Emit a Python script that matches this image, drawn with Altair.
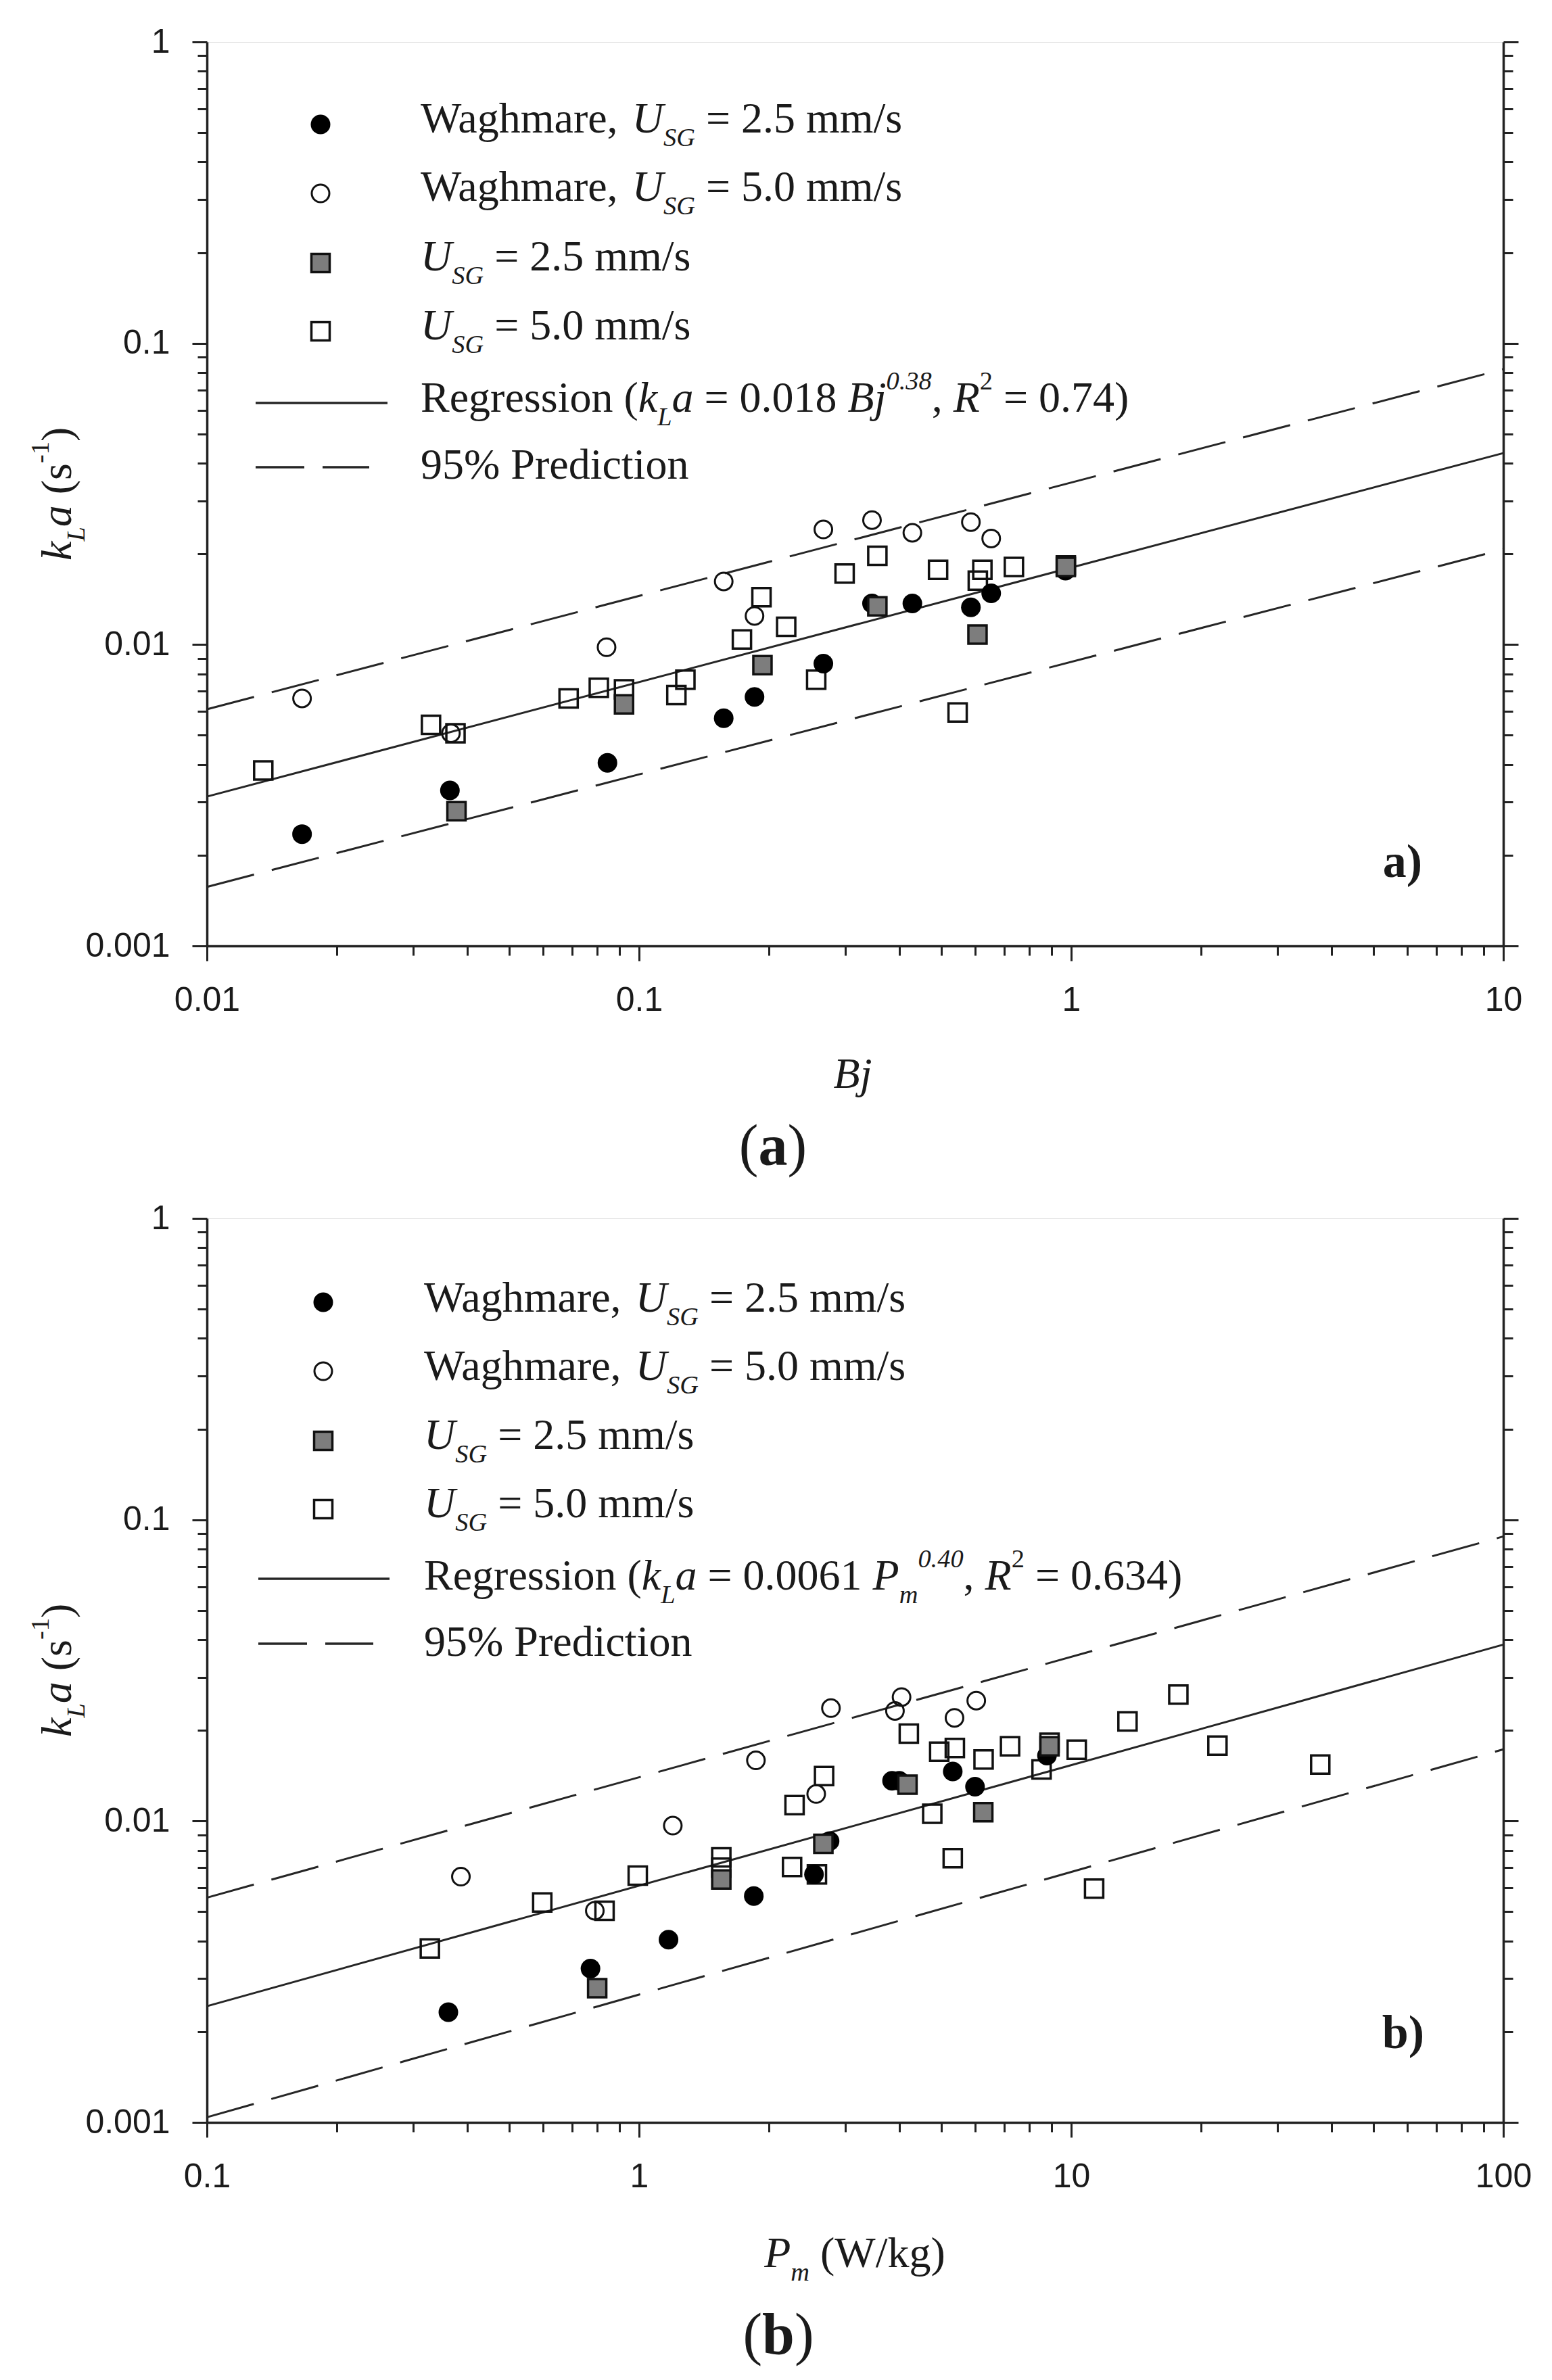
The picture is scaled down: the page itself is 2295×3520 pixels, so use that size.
import json
import altair as alt
import pandas as pd

# ---------------- data ----------------
# Panel (a): kLa vs Bj
a_wag25_x = [0.0166, 0.0365, 0.0845, 0.157, 0.185, 0.267, 0.346, 0.429, 0.586, 0.653, 0.97]
a_wag25_y = [0.00235, 0.00328, 0.00405, 0.0057, 0.0067, 0.00865, 0.0137, 0.0137, 0.0133, 0.0148, 0.0176]
a_wag50_x = [0.0166, 0.0367, 0.0841, 0.157, 0.185, 0.267, 0.346, 0.429, 0.586, 0.653]
a_wag50_y = [0.00663, 0.00508, 0.0098, 0.0162, 0.01245, 0.0241, 0.0259, 0.0235, 0.0255, 0.0225]
a_u25_x = [0.0378, 0.0923, 0.193, 0.356, 0.607, 0.972]
a_u25_y = [0.0028, 0.00633, 0.00855, 0.0134, 0.0108, 0.0181]
a_u50_x = [0.0135, 0.033, 0.0376, 0.0687, 0.0807, 0.0923, 0.122, 0.128, 0.173, 0.192,
           0.219, 0.257, 0.299, 0.356, 0.492, 0.546, 0.608, 0.623, 0.737, 0.972]
a_u50_y = [0.00382, 0.00542, 0.00508, 0.00663, 0.00719, 0.0071, 0.0068, 0.00765, 0.0104, 0.01437,
           0.01146, 0.00765, 0.0172, 0.0197, 0.0177, 0.00595, 0.0163, 0.0177, 0.0181, 0.0183]
a_line_x = [0.01, 10]
a_reg_y = [0.00313, 0.0432]
a_up_y = [0.0061, 0.082]
a_lo_y = [0.00157, 0.0207]

# Panel (b): kLa vs Pm
b_wag25_x = [0.362, 0.772, 1.17, 1.843, 2.54, 2.76, 3.85, 4.0, 5.32, 5.99, 8.79]
b_wag25_y = [0.00232, 0.00324, 0.00404, 0.00564, 0.00665, 0.00858, 0.0136, 0.0136, 0.0146, 0.0130, 0.0165]
b_wag50_x = [0.387, 0.79, 1.197, 1.864, 2.57, 2.78, 3.91, 4.05, 5.37, 6.03]
b_wag50_y = [0.00654, 0.00504, 0.00966, 0.0159, 0.0123, 0.0237, 0.0232, 0.0258, 0.022, 0.0251]
b_u25_x = [0.80, 1.55, 2.67, 4.18, 6.26, 8.91]
b_u25_y = [0.00279, 0.0064, 0.0084, 0.0132, 0.0107, 0.0177]
b_u50_x = [0.328, 0.597, 0.832, 0.993, 1.55, 1.55, 2.26, 2.29, 2.68, 2.58, 4.21, 4.95, 5.38,
           6.27, 7.22, 8.91, 8.54, 10.3, 13.5, 17.7, 21.8, 37.7, 11.3, 5.32, 4.77]
b_u50_y = [0.00378, 0.00537, 0.00504, 0.00659, 0.00758, 0.0070, 0.00704, 0.0113, 0.0141, 0.00665,
           0.0195, 0.0170, 0.01748, 0.0160, 0.0177, 0.0182, 0.01484, 0.01726, 0.0214, 0.0263,
           0.0178, 0.0154, 0.00597, 0.00753, 0.01057]
b_line_x = [0.1, 100]
b_reg_y = [0.00243, 0.0385]
b_up_y = [0.00557, 0.088]
b_lo_y = [0.00104, 0.0173]

# axis ticks
minor_mult = [1, 2, 3, 4, 5, 6, 7, 8, 9]
y_decades = [-3, -2, -1]
y_major = [0.001, 0.01, 0.1, 1]
y_labels = ["0.001", "0.01", "0.1", "1"]
a_decades = [-2, -1, 0]
a_major = [0.01, 0.1, 1, 10]
a_labels = ["0.01", "0.1", "1", "10"]
b_decades = [-1, 0, 1]
b_major = [0.1, 1, 10, 100]
b_labels = ["0.1", "1", "10", "100"]

# ---------------- styling ----------------
SERIF = "Liberation Serif"
SANS = "Liberation Sans"
INK = "#1a1a1a"
LINE = "#262626"
AX = "#222222"
W, H = 1917, 1337
F = 64
DUMMY = pd.DataFrame({"k": [0]})

ROMAN = {' ': 250, '(': 333, ')': 333, ',': 250, '.': 250, '/': 278, '=': 564, '%': 833, '-': 333,
         'W': 944, 'R': 667, 'P': 556, 'U': 722, 'S': 556, 'G': 722, 'L': 611, 'B': 667,
         'a': 444, 'b': 500, 'c': 444, 'd': 500, 'e': 444, 'g': 500, 'h': 500, 'i': 278, 'j': 278,
         'k': 500, 'l': 278, 'm': 778, 'n': 500, 'o': 500, 'r': 333, 's': 389, 't': 278}
ITALIC = {'U': 722, 'S': 500, 'G': 722, 'L': 556, 'B': 611, 'P': 611, 'R': 611, 'k': 444,
          'a': 500, 'j': 278, 'm': 722, 's': 389}
BOLD = {'a': 500, 'b': 556}


def text_width(s, size, kind):
    table = ITALIC if kind.startswith('i') else (BOLD if kind == 'b' else ROMAN)
    return sum(table.get(c, ROMAN.get(c, 500)) for c in s) * size / 1000.0


def seg(t, x, y, size, kind, angle=0):
    return alt.Chart(DUMMY).mark_text(
        text=t, font=SERIF, fontSize=size,
        fontStyle="italic" if kind.startswith('i') else "normal",
        fontWeight="bold" if kind == 'b' else "normal",
        align="left", baseline="alphabetic", angle=angle, color=INK,
    ).encode(x=alt.value(x), y=alt.value(y))


def rich(parts, start, base, size=F, angle=0, center=False):
    small = size * 0.6
    widths = []
    for t, k in parts:
        sz = small if (k.endswith('sub') or k.endswith('sup')) else size
        widths.append((sz, text_width(t, sz, k)))
    total = sum(w for _, w in widths)
    pos = start - total / 2 if center else start
    sign = 1 if angle == 0 else -1
    out = []
    for (t, k), (sz, w) in zip(parts, widths):
        off = 0.0
        if k.endswith('sub'):
            off = 0.31 * size
        elif k.endswith('sup'):
            off = -0.52 * size
        lead = len(t) - len(t.lstrip(" "))
        body = t.strip(" ")
        p = pos + sign * text_width(" " * lead, sz, k)
        if body:
            if angle == 0:
                out.append(seg(body, p, base + off, sz, k))
            else:  # angle 270: text runs upward
                out.append(seg(body, base + off, p, sz, k, angle=270))
        pos += sign * w
    return out


def ticks(decades, last):
    return [round(m * 10 ** e, 6) for e in decades for m in minor_mult] + [last]


def label_expr(major, labels):
    return "".join(f"datum.value == {v} ? '{l}' : " for v, l in zip(major, labels)) + "''"


def tick_size(major):
    return {"condition": {"test": f"indexof({json.dumps(major)}, datum.value) >= 0", "value": 22},
            "value": 14}


def axis(orient, values, major, labels, show_labels=True):
    kw = dict(orient=orient, values=values, tickSize=tick_size(major), tickWidth=3, tickColor=AX,
              domainColor=AX, domainWidth=3.5, grid=False, title=None)
    if show_labels:
        kw.update(labelExpr=label_expr(major, labels), labelFont=SANS, labelFontSize=50,
                  labelColor=INK, labelPadding=33, labelFlush=False, labelOverlap=False,
                  labelBound=False)
    else:
        kw.update(labels=False)
    return alt.Axis(**kw)


def panel(P):
    xs = alt.Scale(type="log", domain=P["xdom"], nice=False)
    ys = alt.Scale(type="log", domain=[0.001, 1], nice=False)
    yt = ticks(y_decades, 1)
    xt = ticks(P["xdec"], P["xdom"][1])
    xenc = alt.X("x:Q", scale=xs, axis=axis("bottom", xt, P["xmajor"], P["xlabels"]))
    y_left = alt.Y("y:Q", scale=ys, axis=axis("left", yt, y_major, y_labels))
    y_right = alt.Y("y:Q", scale=ys, axis=axis("right", yt, y_major, y_labels, show_labels=False))
    y_none = alt.Y("y:Q", scale=ys, axis=None)

    def df(x, y):
        return pd.DataFrame({"x": x, "y": y})

    lx = P["line_x"]
    layers = [
        alt.Chart(df(lx, P["reg_y"])).mark_line(color=LINE, strokeWidth=3).encode(x=xenc, y=y_right),
        alt.Chart(df(lx, P["up_y"])).mark_line(color=LINE, strokeWidth=3, strokeDash=[72, 27]).encode(x=xenc, y=y_none),
        alt.Chart(df(lx, P["lo_y"])).mark_line(color=LINE, strokeWidth=3, strokeDash=[72, 27]).encode(x=xenc, y=y_none),
        alt.Chart(df(P["u50_x"], P["u50_y"])).mark_point(shape="square", filled=False, color="#111111",
                                                          strokeWidth=3.5, size=729, opacity=1).encode(x=xenc, y=y_left),
        alt.Chart(df(P["wag50_x"], P["wag50_y"])).mark_point(shape="circle", filled=False, color="#111111",
                                                              strokeWidth=3, size=676, opacity=1).encode(x=xenc, y=y_none),
        alt.Chart(df(P["wag25_x"], P["wag25_y"])).mark_point(shape="circle", filled=True, color="#000000",
                                                              size=841, opacity=1).encode(x=xenc, y=y_none),
        alt.Chart(df(P["u25_x"], P["u25_y"])).mark_point(shape="square", filled=True, fill="#7d7d7d", stroke="#111111",
                                                          strokeWidth=3.5, size=729, opacity=1).encode(x=xenc, y=y_none),
    ]

    # legend
    L = P["leg"]
    mx = L["mx"]
    rows = L["rows"]
    layers += [
        alt.Chart(DUMMY).mark_point(shape="circle", filled=True, color="#000000", size=841, opacity=1)
        .encode(x=alt.value(mx), y=alt.value(rows[0])),
        alt.Chart(DUMMY).mark_point(shape="circle", filled=False, color="#111111", strokeWidth=3, size=676, opacity=1)
        .encode(x=alt.value(mx), y=alt.value(rows[1])),
        alt.Chart(DUMMY).mark_point(shape="square", filled=True, fill="#7d7d7d", stroke="#111111", strokeWidth=3.5,
                                    size=729, opacity=1).encode(x=alt.value(mx), y=alt.value(rows[2])),
        alt.Chart(DUMMY).mark_point(shape="square", filled=False, color="#111111", strokeWidth=3.5, size=729, opacity=1)
        .encode(x=alt.value(mx), y=alt.value(rows[3])),
        alt.Chart(DUMMY).mark_rule(color=LINE, strokeWidth=3.5)
        .encode(x=alt.value(L["lx1"]), x2=alt.value(L["lx2"]), y=alt.value(rows[4])),
        alt.Chart(DUMMY).mark_rule(color=LINE, strokeWidth=3.5, strokeDash=[72, 27])
        .encode(x=alt.value(L["lx1"]), x2=alt.value(L["lx3"]), y=alt.value(rows[5])),
    ]
    tx = L["tx"]
    bl = L["base"]
    leg_texts = [
        [("Waghmare, ", 'r'), ("U", 'i'), ("SG", 'isub'), (" = 2.5 mm/s", 'r')],
        [("Waghmare, ", 'r'), ("U", 'i'), ("SG", 'isub'), (" = 5.0 mm/s", 'r')],
        [("U", 'i'), ("SG", 'isub'), (" = 2.5 mm/s", 'r')],
        [("U", 'i'), ("SG", 'isub'), (" = 5.0 mm/s", 'r')],
        P["reg_text"],
        [("95% Prediction", 'r')],
    ]
    for parts, b in zip(leg_texts, bl):
        layers += rich(parts, tx, b)

    # y title (rotated)
    layers += rich([("k", 'i'), ("L", 'isub'), ("a", 'i'), (" (", 'r'), ("s", 'r'), ("-1", 'rsup'), (")", 'r')],
                   P["yt_start"], -201, angle=270)
    # x title
    layers += rich(P["xtitle"], P["xt_cx"], P["xt_base"], center=True)
    # caption
    layers += rich([("(", 'r'), (P["cap"], 'b'), (")", 'r')], P["cap_cx"], P["cap_base"], size=86, center=True)
    # corner label
    layers.append(alt.Chart(DUMMY).mark_text(text=P["cap"] + ")", font=SERIF, fontSize=70, fontWeight="bold",
                                             align="right", baseline="alphabetic", color=INK)
                  .encode(x=alt.value(P["corner_x"]), y=alt.value(P["corner_base"])))

    return alt.layer(*layers).resolve_axis(y="independent").properties(width=W, height=H)


PA = dict(
    xdom=[0.01, 10], xdec=a_decades, xmajor=a_major, xlabels=a_labels, line_x=a_line_x,
    reg_y=a_reg_y, up_y=a_up_y, lo_y=a_lo_y,
    u50_x=a_u50_x, u50_y=a_u50_y, wag50_x=a_wag50_x, wag50_y=a_wag50_y,
    wag25_x=a_wag25_x, wag25_y=a_wag25_y, u25_x=a_u25_x, u25_y=a_u25_y,
    leg=dict(mx=168, rows=[122, 224, 327, 428, 534, 629], lx1=72, lx2=267, lx3=240, tx=316,
             base=[134, 235, 338, 440, 547, 646]),
    reg_text=[("Regression (", 'r'), ("k", 'i'), ("L", 'isub'), ("a", 'i'), (" = 0.018 ", 'r'), ("Bj", 'i'),
              ("0.38", 'isup'), (", ", 'r'), ("R", 'i'), ("2", 'rsup'), (" = 0.74)", 'r')],
    yt_start=767, xtitle=[("Bj", 'i')], xt_cx=955, xt_base=1547,
    cap="a", cap_cx=837, cap_base=1661, corner_x=1797, corner_base=1235,
)
PB = dict(
    xdom=[0.1, 100], xdec=b_decades, xmajor=b_major, xlabels=b_labels, line_x=b_line_x,
    reg_y=b_reg_y, up_y=b_up_y, lo_y=b_lo_y,
    u50_x=b_u50_x, u50_y=b_u50_y, wag50_x=b_wag50_x, wag50_y=b_wag50_y,
    wag25_x=b_wag25_x, wag25_y=b_wag25_y, u25_x=b_u25_x, u25_y=b_u25_y,
    leg=dict(mx=172, rows=[124, 226, 329, 430, 533, 629], lx1=76, lx2=270, lx3=246, tx=321,
             base=[138, 239, 341, 442, 549, 647]),
    reg_text=[("Regression (", 'r'), ("k", 'i'), ("L", 'isub'), ("a", 'i'), (" = 0.0061 ", 'r'), ("P", 'i'),
              ("m", 'isub'), ("0.40", 'isup'), (", ", 'r'), ("R", 'i'), ("2", 'rsup'), (" = 0.634)", 'r')],
    yt_start=767, xtitle=[("P", 'i'), ("m", 'isub'), (" (W/kg)", 'r')], xt_cx=958, xt_base=1551,
    cap="b", cap_cx=845, cap_base=1679, corner_x=1800, corner_base=1227,
)

chart = alt.vconcat(panel(PA), panel(PB), spacing=35).properties(
    padding={"left": 32, "top": 28, "right": 10, "bottom": 10}
).configure_view(stroke=AX, strokeWidth=3.5).configure(background="white")

chart.save("out.html", embed_options={"renderer": "svg", "actions": False})
